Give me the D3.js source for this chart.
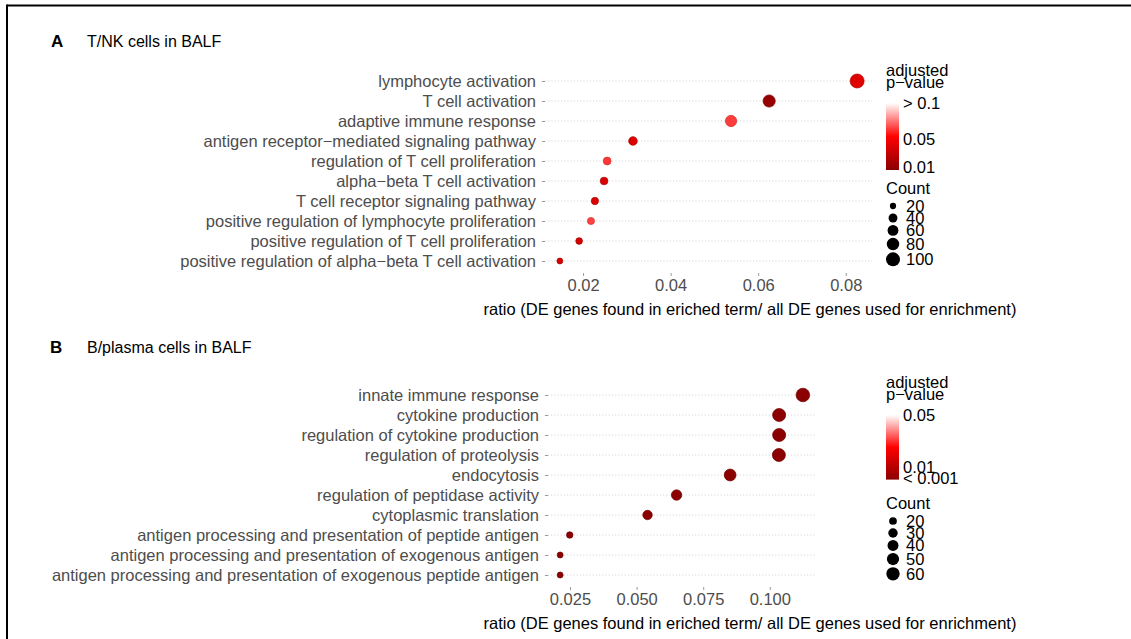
<!DOCTYPE html>
<html>
<head>
<meta charset="utf-8">
<script src="https://cdn.jsdelivr.net/npm/d3@7"></script>
<style>
  html, body { margin: 0; padding: 0; background: #fff; }
  svg { display: block; font-family: "Liberation Sans", Arial, Helvetica, sans-serif; }
</style>
</head>
<body>
<svg id="chart" width="1131" height="639"></svg>
<script>
// ---------------- DATA ----------------
const termsA = [
  "lymphocyte activation",
  "T cell activation",
  "adaptive immune response",
  "antigen receptor\u2212mediated signaling pathway",
  "regulation of T cell proliferation",
  "alpha\u2212beta T cell activation",
  "T cell receptor signaling pathway",
  "positive regulation of lymphocyte proliferation",
  "positive regulation of T cell proliferation",
  "positive regulation of alpha\u2212beta T cell activation"
];
const ratioA = [0.0826, 0.0625, 0.0538, 0.0314, 0.0255, 0.0248, 0.0227, 0.0218, 0.0191, 0.0147];
const countA = [100, 76, 65, 38, 31, 30, 27, 26, 23, 18];
const padjA  = [0.040, 0.010, 0.064, 0.038, 0.063, 0.037, 0.038, 0.065, 0.035, 0.036];

const termsB = [
  "innate immune response",
  "cytokine production",
  "regulation of cytokine production",
  "regulation of proteolysis",
  "endocytosis",
  "regulation of peptidase activity",
  "cytoplasmic translation",
  "antigen processing and presentation of peptide antigen",
  "antigen processing and presentation of exogenous antigen",
  "antigen processing and presentation of exogenous peptide antigen"
];
const ratioB = [0.1124, 0.1035, 0.1035, 0.1034, 0.0851, 0.0650, 0.0541, 0.0249, 0.0213, 0.0213];
const countB = [62, 57, 57, 57, 47, 36, 30, 14, 12, 12];
const padjB  = [0.00001, 0.00002, 0.00002, 0.00003, 0.00004, 0.00005, 0.00003, 0.0001, 0.0001, 0.0001];

const ticksA = [0.02, 0.04, 0.06, 0.08];
const ticksB = [0.025, 0.050, 0.075, 0.100];

const pLimitsA = [0.006, 0.1];
const pBreaksA = [0.1, 0.05, 0.01];
const pLabelsA = ["> 0.1", "0.05", "0.01"];
const countBreaksA = [20, 40, 60, 80, 100];

const pLimitsB = [0, 0.05];
const pBreaksB = [0.05, 0.01, 0.001];
const pLabelsB = ["0.05", "0.01", "< 0.001"];
const countBreaksB = [20, 30, 40, 50, 60];

const xTitle = "ratio (DE genes found in eriched term/ all DE genes used for enrichment)";
const colorStops = ["#8b0000", "#ff0000", "#ffffff"];

// ---------------- DRAW ----------------
const FS = 16.5;
const svg = d3.select("#chart");

// frame
svg.append("line").attr("x1", 7).attr("x2", 1131).attr("y1", 5.5).attr("y2", 5.5)
  .attr("stroke", "#000").attr("stroke-width", 2);
svg.append("line").attr("x1", 7).attr("x2", 7).attr("y1", 4.5).attr("y2", 639)
  .attr("stroke", "#000").attr("stroke-width", 2);

function drawPanel(cfg) {
  const g = svg.append("g");

  // panel header
  g.append("text").attr("x", cfg.letterX).attr("y", cfg.headerY)
    .attr("font-size", 17).attr("font-weight", "bold").attr("fill", "#000").text(cfg.letter);
  g.append("text").attr("x", 87).attr("y", cfg.headerY)
    .attr("font-size", 16).attr("fill", "#000").text(cfg.title);

  // scales
  const ext = d3.extent(cfg.ratio);
  const pad = (ext[1] - ext[0]) * 0.05;
  const x = d3.scaleLinear().domain([ext[0] - pad, ext[1] + pad]).range([cfg.x0, cfg.x1]);
  const y = d3.scalePoint().domain(cfg.terms).range([cfg.yTop, cfg.yTop + 20 * (cfg.terms.length - 1)]);
  const yBottom = cfg.yTop + 20 * (cfg.terms.length - 1) + 12;
  const mid = (cfg.pLimits[0] + cfg.pLimits[1]) / 2;
  const color = d3.scaleLinear().domain([cfg.pLimits[0], mid, cfg.pLimits[1]])
    .range(colorStops).clamp(true);
  const r = d3.scaleSqrt().domain([0, d3.max(cfg.count)]).range([0, cfg.rMax]);

  // gridlines
  g.selectAll(".grid").data(cfg.terms).join("line")
    .attr("x1", cfg.x0).attr("x2", cfg.x1)
    .attr("y1", d => y(d)).attr("y2", d => y(d))
    .attr("stroke", "#cfcfcf").attr("stroke-width", 1).attr("stroke-dasharray", "1,2.2");

  // y axis
  const yAxis = d3.axisLeft(y).tickSize(3).tickPadding(6);
  const ya = g.append("g").attr("transform", `translate(${cfg.x0},0)`).call(yAxis);
  ya.select(".domain").remove();
  ya.selectAll(".tick line").attr("stroke", "#9a9a9a");
  ya.selectAll(".tick text").attr("font-size", FS).attr("fill", "#4d4d4d")
    .attr("font-family", "Liberation Sans, Arial, sans-serif").attr("dy", "0.36em");

  // x axis
  const xAxis = d3.axisBottom(x).tickValues(cfg.ticks).tickFormat(d3.format(cfg.fmt))
    .tickSize(3).tickPadding(3);
  const xa = g.append("g").attr("transform", `translate(0,${yBottom})`).call(xAxis);
  xa.select(".domain").remove();
  xa.selectAll(".tick line").attr("stroke", "#9a9a9a");
  xa.selectAll(".tick text").attr("font-size", FS).attr("fill", "#4d4d4d")
    .attr("font-family", "Liberation Sans, Arial, sans-serif");

  g.append("text").attr("x", 750).attr("y", yBottom + 42).attr("text-anchor", "middle")
    .attr("font-size", FS).attr("fill", "#000").text(xTitle);

  // points
  const rows = cfg.terms.map((t, i) => ({t, ratio: cfg.ratio[i], count: cfg.count[i], p: cfg.padj[i]}));
  g.selectAll(".pt").data(rows).join("circle")
    .attr("cx", d => x(d.ratio)).attr("cy", d => y(d.t)).attr("r", d => r(d.count))
    .attr("fill", d => color(d.p))
    .attr("stroke", d => d3.color(color(d.p)).darker(0.6)).attr("stroke-width", 0.7);

  // ------- legend: colour bar -------
  const lx = 886;
  g.append("text").attr("x", lx).attr("y", cfg.legTop).attr("font-size", FS).text("adjusted");
  g.append("text").attr("x", lx).attr("y", cfg.legTop + 11.5).attr("font-size", FS).text("p\u2212value");

  const barTop = cfg.barTop, barBot = cfg.barBot;
  const yl = d3.scaleLinear().domain(cfg.pLimits).range([barBot, barTop]);
  const gradId = "grad" + cfg.letter;
  const grad = svg.append("defs").append("linearGradient").attr("id", gradId)
    .attr("x1", 0).attr("x2", 0).attr("y1", 1).attr("y2", 0);
  d3.range(0, 1.0001, 0.05).forEach(t => {
    const v = cfg.pLimits[0] + t * (cfg.pLimits[1] - cfg.pLimits[0]);
    grad.append("stop").attr("offset", t).attr("stop-color", color(v));
  });
  g.append("rect").attr("x", lx).attr("y", barTop).attr("width", 13).attr("height", barBot - barTop)
    .attr("fill", `url(#${gradId})`);
  g.selectAll(".pl").data(cfg.pBreaks).join("text")
    .attr("x", lx + 17).attr("y", d => yl(d) + 6).attr("font-size", FS)
    .text((d, i) => cfg.pLabels[i]);

  // ------- legend: size -------
  g.append("text").attr("x", lx).attr("y", cfg.countTop).attr("font-size", FS).text("Count");
  let cy = cfg.countTop + 12;
  cfg.countBreaks.forEach((c, i) => {
    const rr = r(c);
    const h = Math.max(12, 2 * rr + 2);
    if (i > 0) cy += h / 2;
    g.append("circle").attr("cx", lx + 7).attr("cy", cy).attr("r", rr).attr("fill", "#000");
    g.append("text").attr("x", lx + 20).attr("y", cy + 6).attr("font-size", FS).text(c);
    cy += h / 2;
  });
}

drawPanel({
  letter: "A", letterX: 51, headerY: 47, title: "T/NK cells in BALF",
  terms: termsA, ratio: ratioA, count: countA, padj: padjA,
  x0: 545, x1: 872, yTop: 81, ticks: ticksA, fmt: ".2f", rMax: 7,
  pLimits: pLimitsA, pBreaks: pBreaksA, pLabels: pLabelsA, countBreaks: countBreaksA,
  legTop: 76, barTop: 103, barBot: 170, countTop: 194
});

drawPanel({
  letter: "B", letterX: 50, headerY: 353, title: "B/plasma cells in BALF",
  terms: termsB, ratio: ratioB, count: countB, padj: padjB,
  x0: 548, x1: 815, yTop: 395, ticks: ticksB, fmt: ".3f", rMax: 6.8,
  pLimits: pLimitsB, pBreaks: pBreaksB, pLabels: pLabelsB, countBreaks: countBreaksB,
  legTop: 388, barTop: 415, barBot: 479.6, countTop: 509
});
</script>
</body>
</html>
